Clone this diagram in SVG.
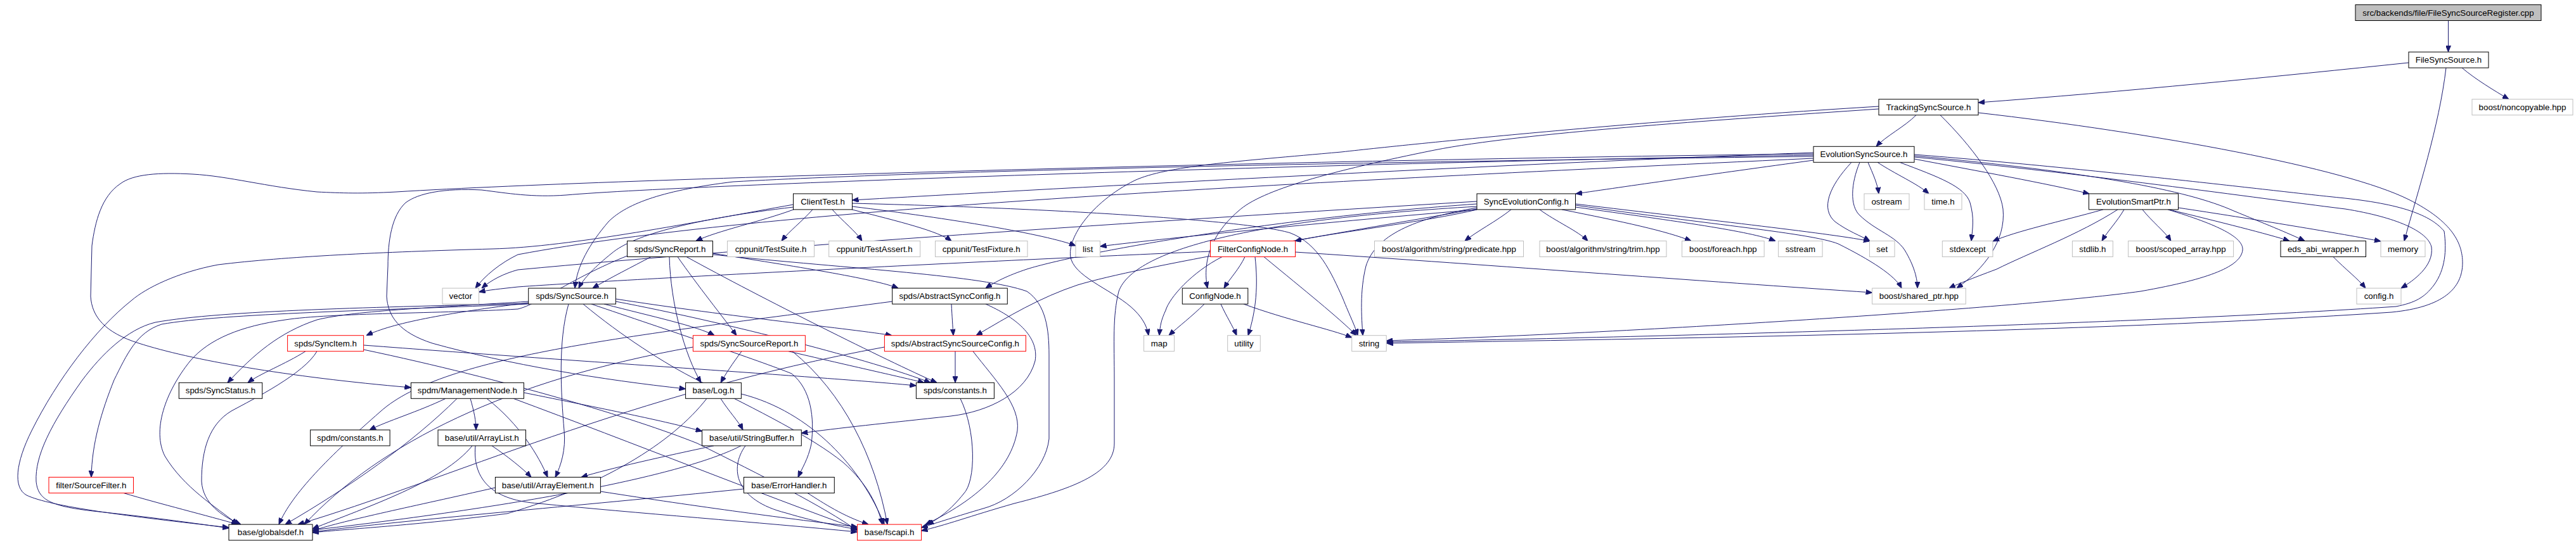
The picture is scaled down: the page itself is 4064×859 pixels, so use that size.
<svg xmlns="http://www.w3.org/2000/svg" width="4064" height="859" viewBox="0 0 4064 859">
<style>
rect{fill:#ffffff;stroke-width:1}
.b{stroke:#000000}
.g{stroke:#bfbfbf}
.r{stroke:#ff0000}
.root{stroke:#000000;fill:#bfbfbf}
text{font-family:"Liberation Sans",Arial,Helvetica,sans-serif;font-size:13.33px;fill:#000000;text-anchor:middle}
#edges path{fill:none;stroke:#191970;stroke-width:1;marker-end:url(#arr)}
</style>
<defs>
<marker id="arr" viewBox="0 0 10 8" refX="10" refY="4" markerWidth="10" markerHeight="8" markerUnits="userSpaceOnUse" orient="auto">
<path d="M0,0 L10,4 L0,8 z" fill="#191970" stroke="#191970"/>
</marker>
</defs>
<rect x="0" y="0" width="4064" height="859" style="fill:#ffffff;stroke:none"/>
<g id="edges">
<path d="M3862.5,32.5 L3862.5,82"/>
<path d="M3884,107 C3905,125 3935,143 3958,156.7"/>
<path d="M3800,99 C3600,120 3350,145 3121,162"/>
<path d="M3859,107 C3848,200 3815,300 3793,380.5"/>
<path d="M3023,181.7 C3005,200 2975,215 2960,231.3"/>
<path d="M3061,181.7 C3110,230 3155,290 3160,330 C3165,380 3130,425 3087,455"/>
<path d="M3121,178 C3400,210 3700,265 3800,315 C3870,350 3885,385 3885,415 C3885,455 3855,485 3773,493 C3300,525 2600,535 2187.5,542"/>
<path d="M2964,172 C2700,190 2400,210 2263,237 C2100,270 1990,300 1954,333 C1905,375 1898,420 1905,455"/>
<path d="M2964,168 C2600,190 2250,225 2116,240 C1950,255 1840,262 1790,285 C1720,320 1680,380 1690,410 C1700,440 1760,460 1790,490 C1805,505 1810,518 1812,529.7"/>
<path d="M2947,256.3 C2955,275 2962,290 2964,305.9"/>
<path d="M2962,256.3 C2990,275 3025,290 3043,305.9"/>
<path d="M2997,256.3 C3060,280 3100,295 3108,320 C3115,345 3112,360 3110,380.5"/>
<path d="M2934,256.3 C2920,290 2918,325 2934,340 C2960,365 2990,372 3005,395 C3020,420 3025,440 3025,455"/>
<path d="M2921,256.3 C2885,295 2872,330 2895,350 C2915,365 2935,372 2950,380.5"/>
<path d="M3020,251 C3120,270 3230,290 3296,305.9"/>
<path d="M3020,246 C3300,272 3450,300 3524,333 C3570,352 3610,368 3636,380.5"/>
<path d="M3020,248 C3300,275 3600,318 3700,330 C3780,343 3830,365 3836,390 C3840,420 3808,443 3788,455"/>
<path d="M3020,244 C3300,266 3600,303 3690,312 C3790,322 3835,340 3856,365 C3860,395 3858,425 3840,450 C3825,470 3810,478 3780,484 C3400,510 2700,530 2187.5,540"/>
<path d="M2861,253 C2700,275 2560,295 2486,306"/>
<path d="M2861,241 C2400,258 1800,290 1344.5,316"/>
<path d="M2861,247 C2200,255 1500,268 1157,287 C1050,300 990,320 960,350 C930,385 910,420 907,455"/>
<path d="M2861,243 C2200,250 1000,280 625,303 C570,306 540,305 500,303 C420,295 360,278 304,275 C250,272 210,275 190,290 C160,310 150,350 145,388 L143,468 C145,500 165,525 219,542 C300,568 450,595 648.4,612"/>
<path d="M2861,245 C2200,255 1100,290 893,308 C840,312 800,305 760,300 C700,297 660,305 640,320 C618,340 612,380 612,420 L610,468 C612,500 630,525 682,542 C800,575 950,600 1081.6,614"/>
<path d="M2861,250 C2000,290 1200,330 817,402 C790,415 765,435 750,455.1"/>
<path d="M2330,318 C1800,350 1200,390 817,426 C795,432 775,442 760,455.1"/>
<path d="M1909.5,397 C1600,410 1000,440 817,453 C790,456 770,458 755.5,461"/>
<path d="M2330,322 C2000,345 1700,400 1620,425 C1590,435 1570,445 1555,455.1"/>
<path d="M2330,330 C2100,370 1800,420 1700,450 C1640,470 1590,500 1540,529.7"/>
<path d="M2330,331 C2100,350 1850,375 1735.5,389"/>
<path d="M2330,331 C2250,350 2100,368 2043,380.5"/>
<path d="M2330,328 C2230,345 2170,372 2155,420 C2145,460 2148,500 2150,529.7"/>
<path d="M2384,330.9 C2360,350 2330,365 2311,380.5"/>
<path d="M2429,330.9 C2455,350 2490,365 2505,380.5"/>
<path d="M2464,330.9 C2560,350 2630,365 2668,380.5"/>
<path d="M2485.5,327 C2650,350 2760,365 2801,380.5"/>
<path d="M2485.5,322 C2700,348 2900,370 2950,381"/>
<path d="M2485.5,324 C2700,355 2857,368 2900,385 C2950,410 2990,435 3000,455.1"/>
<path d="M2330,326 C2000,345 1790,390 1765,460 C1755,500 1758,540 1758,600 L1758,700 C1758,745 1700,770 1600,795 C1530,815 1490,830 1453.6,838"/>
<path d="M1252,330.9 C1200,350 1130,365 1098,380.5"/>
<path d="M1282,330.9 C1265,350 1245,365 1233,380.5"/>
<path d="M1313,330.9 C1330,350 1350,365 1360,380.5"/>
<path d="M1344,330.9 C1420,350 1480,365 1501,380.5"/>
<path d="M1344.5,326 C1500,345 1650,370 1697,388"/>
<path d="M1344.5,321 C1700,330 1980,350 2036,368 C2080,385 2100,430 2118,470 C2130,500 2138,515 2142,529.7"/>
<path d="M1251.5,327 C1100,345 1000,370 965,400 C940,420 920,440 913,455.1"/>
<path d="M1251.5,323 C1100,350 900,390 777,393 C600,398 450,405 344,418 C280,430 230,455 208,474 C150,520 90,600 50,680 C25,730 20,770 42,782 C80,800 200,815 361,833"/>
<path d="M1027,405.5 C1000,420 960,440 935,455.1"/>
<path d="M1069,405.5 C1100,450 1140,500 1162,529.7"/>
<path d="M1056,405.5 C1058,480 1080,560 1106,604.3"/>
<path d="M1124.5,400 C1250,420 1380,440 1417,455.1"/>
<path d="M1083,405.5 C1200,470 1400,570 1478,604.3"/>
<path d="M1124.5,402 C1350,425 1550,435 1620,460 C1650,480 1655,520 1655,560 L1655,693 C1650,740 1600,790 1551,803 C1510,815 1480,825 1453.6,833"/>
<path d="M989.5,404 C900,440 850,480 817,488 C700,495 521,494 450,505 C380,515 330,535 300,570 C260,620 240,680 260,720 C290,770 340,800 375,828.1"/>
<path d="M834,476 C700,485 560,490 500,505 C440,525 400,560 359,604.3"/>
<path d="M834,478 C700,495 620,510 578,529.7"/>
<path d="M834,480 C600,490 350,495 255,512 C215,525 200,560 180,600 C160,650 145,700 144,753.5"/>
<path d="M834,479 C600,485 350,490 245,509 C200,520 160,560 130,600 C80,670 55,720 57,760 C60,790 80,800 156,808 C250,818 320,828 361,834"/>
<path d="M897,480.1 C880,540 885,620 890,680 C893,710 885,735 876,753.5"/>
<path d="M933,480.1 C1050,520 1200,570 1249,590 C1280,615 1285,660 1280,701 C1275,725 1265,740 1259,753.5"/>
<path d="M953,480.1 C1030,500 1100,515 1127,529.7"/>
<path d="M971.4,472 C1150,500 1350,520 1407,529.7"/>
<path d="M971.4,476 C1150,510 1380,570 1468,604.3"/>
<path d="M920,480.1 C980,530 1050,575 1100,600 C1200,650 1280,690 1330,730 C1370,765 1385,800 1392,828.1"/>
<path d="M482,554.7 C450,575 410,590 391,604.3"/>
<path d="M500,554.7 C480,590 400,630 365,649 C330,670 318,710 318,760 C320,795 350,815 380,828.1"/>
<path d="M573.6,545 C900,570 1300,595 1445.4,609"/>
<path d="M573.6,552 C800,600 1000,660 1100,700 C1200,750 1300,800 1352.6,838"/>
<path d="M703,629.3 C660,650 610,665 583,678.9"/>
<path d="M721,629.3 C650,700 550,770 450,828.1"/>
<path d="M742,629.3 C748,650 751,665 751,678.9"/>
<path d="M768,629.3 C820,670 850,720 864,753.5"/>
<path d="M826.4,620 C950,645 1050,665 1107.6,681"/>
<path d="M810,629.3 C1000,700 1200,780 1352.6,835"/>
<path d="M776,703.9 C800,720 825,740 838,753.5"/>
<path d="M745,703.9 C700,760 580,800 493,835"/>
<path d="M750,703.9 C745,760 780,790 850,795 C1000,810 1200,825 1352.6,840"/>
<path d="M1126,703.9 C1050,720 960,740 917,753.5"/>
<path d="M1176,703.9 C1150,740 1160,790 1240,810 C1290,825 1330,832 1352.6,836"/>
<path d="M1169,703.9 C1100,740 900,790 493,837"/>
<path d="M781.4,770 C650,800 550,820 493,838"/>
<path d="M947.4,776 C1100,800 1250,820 1352.6,832"/>
<path d="M1274,778.5 C1300,795 1330,815 1370,828.1"/>
<path d="M1173.5,772 C900,800 650,820 493,840"/>
<path d="M195,778.5 C250,795 330,815 375,828.1"/>
<path d="M1137,629.3 C1150,650 1165,665 1172,678.9"/>
<path d="M1169.4,622 C1280,650 1360,740 1395,828.1"/>
<path d="M1115,629.3 C1060,700 950,767 800,811 C650,830 550,835 493,841"/>
<path d="M1170,554.7 C1155,575 1145,590 1137,604.3"/>
<path d="M1244,554.7 C1330,575 1420,595 1458,604.3"/>
<path d="M1250,554.7 C1330,620 1380,720 1400,828.1"/>
<path d="M1093.4,548 C800,600 600,700 480,828.1"/>
<path d="M1507,554.7 L1507,604.3"/>
<path d="M1535,554.7 C1570,600 1610,640 1605,680 C1595,740 1540,790 1460,828.1"/>
<path d="M1395.4,548 C1000,620 700,760 470,828.1"/>
<path d="M1501,480.1 C1502,500 1503,515 1504,529.7"/>
<path d="M1555,480.1 C1600,500 1640,530 1633,570 C1620,620 1560,650 1500,657 C1400,668 1320,676 1264.3,684"/>
<path d="M1407.7,476 C1000,530 700,560 600,650 C520,720 460,780 440,828.1"/>
<path d="M1515,629.3 C1540,680 1540,760 1520,780 C1500,805 1480,820 1463,828.1"/>
<path d="M1964,405.5 C1955,425 1940,440 1931,455.1"/>
<path d="M1928,405.5 C1880,430 1845,470 1839,490 C1832,505 1830,515 1829,529.7"/>
<path d="M1980,405.5 C1985,450 1982,490 1969,529.7"/>
<path d="M1994,405.5 C2060,460 2110,500 2140,529.7"/>
<path d="M2043.5,398 C2300,415 2700,445 2953.6,462"/>
<path d="M1900,480.1 C1880,500 1860,515 1844,529.7"/>
<path d="M1926,480.1 C1935,500 1945,515 1951,529.7"/>
<path d="M1962,480.1 C2030,505 2100,520 2132.7,533"/>
<path d="M3318,330.9 C3250,350 3180,365 3144,381"/>
<path d="M3341,330.9 C3280,370 3200,400 3150,425 C3110,440 3085,450 3075,455.1"/>
<path d="M3351,330.9 C3340,350 3325,365 3316,380.5"/>
<path d="M3380,330.9 C3395,350 3415,365 3425,380.5"/>
<path d="M3422,330.9 C3500,350 3580,370 3612,380.5"/>
<path d="M3436.5,328 C3550,345 3700,370 3756,381"/>
<path d="M3420,330.9 C3500,355 3540,375 3538,395 C3535,420 3490,440 3377,460 C3200,485 2600,525 2187.5,538"/>
<path d="M3681,405.5 C3700,425 3720,440 3732,455.1"/>
</g>
<g id="node-FileSyncSourceRegister_cpp"><rect class="root" x="3716" y="7.5" width="293" height="25"/><text x="3862.5" y="24.5">src/backends/file/FileSyncSourceRegister.cpp</text></g>
<g id="node-FileSyncSource_h"><rect class="b" x="3800" y="82.1" width="126" height="25"/><text x="3863" y="99.1">FileSyncSource.h</text></g>
<g id="node-TrackingSyncSource_h"><rect class="b" x="2964" y="156.7" width="157" height="25"/><text x="3042.5" y="173.7">TrackingSyncSource.h</text></g>
<g id="node-noncopyable_hpp"><rect class="g" x="3900" y="156.7" width="159" height="25"/><text x="3979.5" y="173.7">boost/noncopyable.hpp</text></g>
<g id="node-EvolutionSyncSource_h"><rect class="b" x="2861" y="231.3" width="159" height="25"/><text x="2940.5" y="248.3">EvolutionSyncSource.h</text></g>
<g id="node-ClientTest_h"><rect class="b" x="1251.5" y="305.9" width="93" height="25"/><text x="1298" y="322.9">ClientTest.h</text></g>
<g id="node-SyncEvolutionConfig_h"><rect class="b" x="2330" y="305.9" width="155.5" height="25"/><text x="2407.75" y="322.9">SyncEvolutionConfig.h</text></g>
<g id="node-ostream"><rect class="g" x="2941" y="305.9" width="71" height="25"/><text x="2976.5" y="322.9">ostream</text></g>
<g id="node-time_h"><rect class="g" x="3036" y="305.9" width="59" height="25"/><text x="3065.5" y="322.9">time.h</text></g>
<g id="node-EvolutionSmartPtr_h"><rect class="b" x="3295.5" y="305.9" width="141" height="25"/><text x="3366" y="322.9">EvolutionSmartPtr.h</text></g>
<g id="node-SyncReport_h"><rect class="b" x="989.5" y="380.5" width="135" height="25"/><text x="1057" y="397.5">spds/SyncReport.h</text></g>
<g id="node-TestSuite_h"><rect class="g" x="1147.5" y="380.5" width="137" height="25"/><text x="1216" y="397.5">cppunit/TestSuite.h</text></g>
<g id="node-TestAssert_h"><rect class="g" x="1307.7" y="380.5" width="144" height="25"/><text x="1379.7" y="397.5">cppunit/TestAssert.h</text></g>
<g id="node-TestFixture_h"><rect class="g" x="1475.5" y="380.5" width="145.5" height="25"/><text x="1548.25" y="397.5">cppunit/TestFixture.h</text></g>
<g id="node-list"><rect class="g" x="1697" y="380.5" width="38.5" height="25"/><text x="1716.25" y="397.5">list</text></g>
<g id="node-FilterConfigNode_h"><rect class="r" x="1909.5" y="380.5" width="134" height="25"/><text x="1976.5" y="397.5">FilterConfigNode.h</text></g>
<g id="node-predicate_hpp"><rect class="g" x="2168.5" y="380.5" width="235" height="25"/><text x="2286" y="397.5">boost/algorithm/string/predicate.hpp</text></g>
<g id="node-trim_hpp"><rect class="g" x="2429" y="380.5" width="200" height="25"/><text x="2529" y="397.5">boost/algorithm/string/trim.hpp</text></g>
<g id="node-foreach_hpp"><rect class="g" x="2653.6" y="380.5" width="129.6" height="25"/><text x="2718.4" y="397.5">boost/foreach.hpp</text></g>
<g id="node-sstream"><rect class="g" x="2805.6" y="380.5" width="69.5" height="25"/><text x="2840.35" y="397.5">sstream</text></g>
<g id="node-set"><rect class="g" x="2949.5" y="380.5" width="39.5" height="25"/><text x="2969.25" y="397.5">set</text></g>
<g id="node-stdexcept"><rect class="g" x="3064.3" y="380.5" width="79.6" height="25"/><text x="3104.1" y="397.5">stdexcept</text></g>
<g id="node-stdlib_h"><rect class="g" x="3269.4" y="380.5" width="64" height="25"/><text x="3301.4" y="397.5">stdlib.h</text></g>
<g id="node-scoped_array_hpp"><rect class="g" x="3357.6" y="380.5" width="166" height="25"/><text x="3440.6" y="397.5">boost/scoped_array.hpp</text></g>
<g id="node-eds_abi_wrapper_h"><rect class="b" x="3598" y="380.5" width="134.5" height="25"/><text x="3665.25" y="397.5">eds_abi_wrapper.h</text></g>
<g id="node-memory"><rect class="g" x="3756" y="380.5" width="70" height="25"/><text x="3791" y="397.5">memory</text></g>
<g id="node-vector"><rect class="g" x="698" y="455.1" width="57.5" height="25"/><text x="726.75" y="472.1">vector</text></g>
<g id="node-SyncSource_h"><rect class="b" x="833.7" y="455.1" width="137.7" height="25"/><text x="902.55" y="472.1">spds/SyncSource.h</text></g>
<g id="node-AbstractSyncConfig_h"><rect class="b" x="1407.7" y="455.1" width="181.6" height="25"/><text x="1498.5" y="472.1">spds/AbstractSyncConfig.h</text></g>
<g id="node-ConfigNode_h"><rect class="b" x="1865.3" y="455.1" width="103.5" height="25"/><text x="1917" y="472.1">ConfigNode.h</text></g>
<g id="node-shared_ptr_hpp"><rect class="g" x="2953.6" y="455.1" width="147.6" height="25"/><text x="3027.4" y="472.1">boost/shared_ptr.hpp</text></g>
<g id="node-config_h"><rect class="g" x="3718" y="455.1" width="70" height="25"/><text x="3753" y="472.1">config.h</text></g>
<g id="node-SyncItem_h"><rect class="r" x="453.6" y="529.7" width="120" height="25"/><text x="513.6" y="546.7">spds/SyncItem.h</text></g>
<g id="node-SyncSourceReport_h"><rect class="r" x="1093.4" y="529.7" width="177" height="25"/><text x="1181.9" y="546.7">spds/SyncSourceReport.h</text></g>
<g id="node-AbstractSyncSourceConfig_h"><rect class="r" x="1395.4" y="529.7" width="223" height="25"/><text x="1506.9" y="546.7">spds/AbstractSyncSourceConfig.h</text></g>
<g id="node-map"><rect class="g" x="1804.6" y="529.7" width="48" height="25"/><text x="1828.6" y="546.7">map</text></g>
<g id="node-utility"><rect class="g" x="1936.7" y="529.7" width="51.6" height="25"/><text x="1962.5" y="546.7">utility</text></g>
<g id="node-string"><rect class="g" x="2132.7" y="529.7" width="54.5" height="25"/><text x="2159.95" y="546.7">string</text></g>
<g id="node-SyncStatus_h"><rect class="b" x="282.3" y="604.3" width="131.4" height="25"/><text x="348" y="621.3">spds/SyncStatus.h</text></g>
<g id="node-ManagementNode_h"><rect class="b" x="648.4" y="604.3" width="178" height="25"/><text x="737.4" y="621.3">spdm/ManagementNode.h</text></g>
<g id="node-Log_h"><rect class="b" x="1081.6" y="604.3" width="87.8" height="25"/><text x="1125.5" y="621.3">base/Log.h</text></g>
<g id="node-spds_constants_h"><rect class="b" x="1445.4" y="604.3" width="123" height="25"/><text x="1506.9" y="621.3">spds/constants.h</text></g>
<g id="node-spdm_constants_h"><rect class="b" x="489.6" y="678.9" width="125.5" height="25"/><text x="552.35" y="695.9">spdm/constants.h</text></g>
<g id="node-ArrayList_h"><rect class="b" x="691" y="678.9" width="138.5" height="25"/><text x="760.25" y="695.9">base/util/ArrayList.h</text></g>
<g id="node-StringBuffer_h"><rect class="b" x="1107.6" y="678.9" width="156.7" height="25"/><text x="1185.95" y="695.9">base/util/StringBuffer.h</text></g>
<g id="node-SourceFilter_h"><rect class="r" x="77" y="753.5" width="133.5" height="25"/><text x="143.75" y="770.5">filter/SourceFilter.h</text></g>
<g id="node-ArrayElement_h"><rect class="b" x="781.4" y="753.5" width="166" height="25"/><text x="864.4" y="770.5">base/util/ArrayElement.h</text></g>
<g id="node-ErrorHandler_h"><rect class="b" x="1173.5" y="753.5" width="142.8" height="25"/><text x="1244.9" y="770.5">base/ErrorHandler.h</text></g>
<g id="node-globalsdef_h"><rect class="b" x="361" y="828.1" width="132" height="25"/><text x="427" y="845.1">base/globalsdef.h</text></g>
<g id="node-fscapi_h"><rect class="r" x="1352.6" y="828.1" width="101" height="25"/><text x="1403.1" y="845.1">base/fscapi.h</text></g>
</svg>
